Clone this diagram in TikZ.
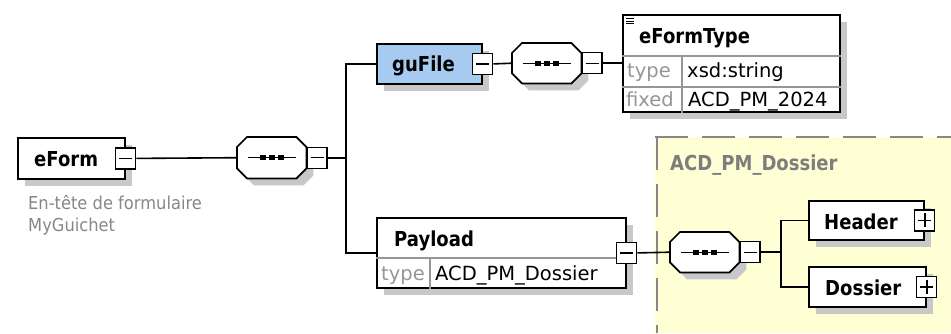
\documentclass[tikz,border=0pt]{standalone}
\usepackage{fontspec}
\setmainfont{DejaVu Sans}
\newfontfamily\namefam[FakeStretch=0.875]{DejaVu Sans}
\newfontfamily\descfam[FakeStretch=0.915]{DejaVu Sans}
\usetikzlibrary{shadows}
\definecolor{shadowgray}{RGB}{200,200,200}
\definecolor{boxblue}{RGB}{166,202,240}
\definecolor{areayellow}{RGB}{255,255,214}
\definecolor{labelgray}{RGB}{150,150,150}
\definecolor{descgray}{RGB}{135,135,135}
\definecolor{rulegray}{RGB}{150,150,150}
\definecolor{grpgray}{RGB}{125,125,125}
\definecolor{dashgray}{RGB}{135,135,135}

\newcommand\octo[1]{([xshift=10pt]#1.north west) -- ([xshift=-10pt]#1.north east) -- ([yshift=-10pt]#1.north east) -- ([yshift=10pt]#1.south east) -- ([xshift=-10pt]#1.south east) -- ([xshift=10pt]#1.south west) -- ([yshift=10pt]#1.south west) -- ([yshift=-10pt]#1.north west) -- cycle}
\newcommand\seqdraw[1]{%
  \begin{scope}[transform canvas={shift={(7pt,-7pt)}}]\fill[shadowgray] \octo{#1};\end{scope}
  \filldraw[fill=white,line width=1.7pt] \octo{#1};
  \draw[line width=1.4pt] ([xshift=-24pt]#1.center) -- ([xshift=24pt]#1.center);
  \foreach \d in {-9,0,9} \fill ([xshift=\d pt-3pt,yshift=-2.3pt]#1.center) rectangle ([xshift=\d pt+3pt,yshift=2.3pt]#1.center);
}

\tikzset{
  shad/.style={drop shadow={shadow xshift=7pt,shadow yshift=-7pt,fill=shadowgray,opacity=1}},
  box/.style={draw,line width=1.8pt,fill=white,rectangle,anchor=north west,inner sep=0pt,shad},
  seqn/.style={rectangle,inner sep=0pt,anchor=north west,minimum width=69pt,minimum height=41pt},
  tog/.style={draw,line width=1.3pt,fill=white,rectangle,inner sep=0pt,minimum width=20pt,minimum height=21pt,
    path picture={\draw[line width=1.4pt] ([xshift=3.5pt]path picture bounding box.west) -- ([xshift=-3.5pt]path picture bounding box.east);}},
  togplus/.style={draw,line width=1.3pt,fill=white,rectangle,inner sep=0pt,minimum width=20pt,minimum height=21pt,
    path picture={\draw[line width=1.4pt] ([xshift=3.5pt]path picture bounding box.west) -- ([xshift=-3.5pt]path picture bounding box.east);
      \draw[line width=1.4pt] ([yshift=-3.5pt]path picture bounding box.north) -- ([yshift=3.5pt]path picture bounding box.south);}},
  conn/.style={line width=1.6pt},
  divider/.style={line width=1.3pt,draw=rulegray},
  grpline/.style={line width=1.6pt,draw=dashgray,dash pattern=on 33pt off 14pt},
  txt/.style={anchor=base west,inner sep=0pt},
  namefont/.style={txt,font=\namefam\fontsize{20.6}{22}\selectfont\bfseries},
  valfont/.style={txt,font=\fontsize{19.5}{22}\selectfont},
  lblfont/.style={txt,font=\fontsize{19.5}{22}\selectfont,text=labelgray},
  descfont/.style={txt,font=\descfam\fontsize{17.8}{20}\selectfont,text=descgray},
}

\begin{document}
\begin{tikzpicture}[x=1pt,y=-1pt]
\useasboundingbox[fill=white] (0,0) rectangle (951,333);

% group area
\node[rectangle,anchor=north west,inner sep=0pt,minimum width=296pt,minimum height=196pt,fill=areayellow] (grp) at (655,137) {};
\draw[grpline] ([xshift=2pt]grp.north west) -- ([xshift=2pt]grp.south west);
\draw[grpline] (grp.north west) -- (grp.north east);
\node[namefont,text=grpgray] (grplbl) at (670,170.5) {ACD\_PM\_Dossier};

% eForm
\node[box,minimum width=107pt,minimum height=41pt] (eform) at (17,137) {};
\node[namefont] (eformtxt) at (34,166.5) {eForm};
\node[tog] (teform) at (eform.east) {};
\node[descfont] (desc1) at (28,209.3) {En-tête de formulaire};
\node[descfont] (desc2) at (28,231) {MyGuichet};

% sequence 1
\node[seqn] (s1) at (237,137) {};
\seqdraw{s1}
\node[tog,anchor=west] (ts1) at (s1.east) {};
\coordinate (j1) at ([xshift=18pt]ts1.east);

% guFile
\node[box,fill=boxblue,minimum width=105pt,minimum height=40pt] (gufile) at (376,43) {};
\node[namefont] (gufiletxt) at (392,71.5) {guFile};
\node[tog] (tgu) at (gufile.east) {};

% sequence 2
\node[seqn,minimum height=40pt] (s2) at (512,43) {};
\seqdraw{s2}
\node[tog,anchor=west] (ts2) at (s2.east) {};

% eFormType
\node[box,minimum width=217pt,minimum height=97pt] (eft) at (622,14) {};
\foreach \yy in {4.3,7.0,9.7}
  \draw[line width=1pt] ([xshift=4pt,yshift=-\yy pt]eft.north west) -- ([xshift=12pt,yshift=-\yy pt]eft.north west);
\draw[divider] ([yshift=-42pt]eft.north west) -- ([yshift=-42pt]eft.north east);
\draw[divider] ([yshift=-73pt]eft.north west) -- ([yshift=-73pt]eft.north east);
\draw[divider] ([xshift=60pt,yshift=-42pt]eft.north west) -- ([xshift=60pt]eft.south west);
\node[namefont] (efttxt) at (639,43.3) {eFormType};
\node[lblfont] (eftl1) at (627,77.3) {type};
\node[valfont] (eftv1) at (687,77.3) {xsd:string};
\node[lblfont] (eftl2) at (626,106) {fixed};
\node[valfont] (eftv2) at (688,106) {ACD\_PM\_2024};

% Payload
\node[box,minimum width=249pt,minimum height=70pt] (payload) at (376,217) {};
\draw[divider] ([yshift=-41pt]payload.north west) -- ([yshift=-41pt]payload.north east);
\draw[divider] ([xshift=54pt,yshift=-41pt]payload.north west) -- ([xshift=54pt]payload.south west);
\node[namefont] (paytxt) at (394,246) {Payload};
\node[lblfont] (payl1) at (381,280) {type};
\node[valfont] (payv1) at (435,280) {ACD\_PM\_Dossier};
\node[tog] (tpay) at (payload.east) {};

% sequence 3
\node[seqn,minimum height=40pt] (s3) at (670,232) {};
\seqdraw{s3}
\node[tog,anchor=west] (ts3) at (s3.east) {};
\coordinate (j2) at ([xshift=20pt]ts3.east);

% Header / Dossier
\node[box,minimum width=115pt,minimum height=39pt] (header) at (808,200) {};
\node[namefont] (headertxt) at (824,229.3) {Header};
\node[togplus] (theader) at (header.east) {};
\node[box,minimum width=117pt,minimum height=40pt] (dossier) at (808,266) {};
\node[namefont] (dossiertxt) at (825,295) {Dossier};
\node[togplus] (tdossier) at (dossier.east) {};

% connectors
\draw[conn] (teform.east) -- (s1.west);
\draw[conn] (ts1.east) -- (j1);
\draw[conn] (gufile.west) -| (j1) |- (payload.west);
\draw[conn] (tgu.east) -- (s2.west);
\draw[conn] (ts2.east) -- (ts2.east -| eft.west);
\draw[conn] (tpay.east) -- (s3.west);
\draw[conn] (ts3.east) -- (j2);
\draw[conn] (header.west) -| (j2) |- (dossier.west);
\end{tikzpicture}
\end{document}
